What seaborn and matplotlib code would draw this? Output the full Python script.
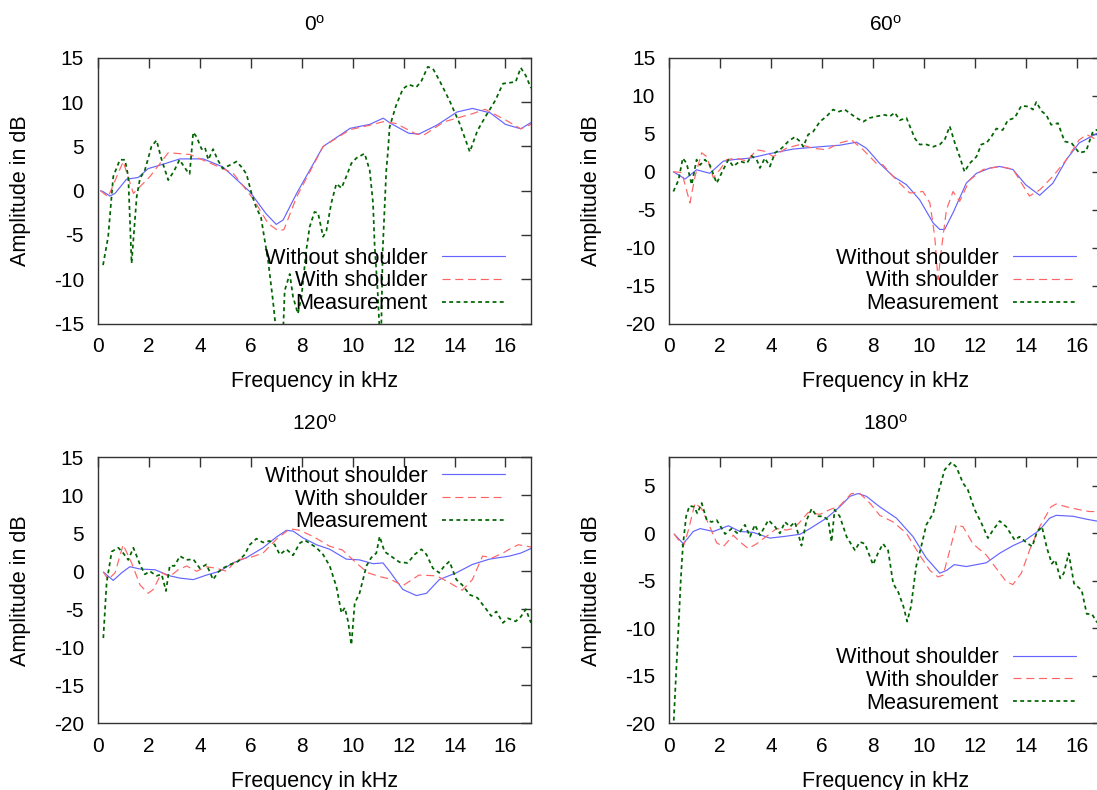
import matplotlib
matplotlib.use('Agg')
import matplotlib.pyplot as plt
import seaborn as sns

# --- data: frequency (kHz) and amplitude (dB) ---
labels = ['Without shoulder', 'With shoulder', 'Measurement']
titles = ['0', '60', '120', '180']

# 0 degrees
f0_without = [0.1, 0.2, 0.47, 0.67, 1.12, 1.58, 1.97, 2.56, 3.22, 4.13, 4.9, 5.96, 6.6, 7.0, 7.27,
              7.8, 8.84, 9.9, 10.67, 11.2, 11.5, 12.2, 12.6, 13.3, 14.1, 14.7, 15.4, 16.0, 16.6, 17.0]
a0_without = [0.0, -0.1, -0.6, -0.3, 1.3, 1.5, 2.5, 3.0, 3.6, 3.6, 2.7, -0.1, -2.6, -3.8, -3.3,
              -0.3, 5.0, 7.05, 7.5, 8.2, 7.6, 6.5, 6.4, 7.4, 8.9, 9.3, 8.8, 7.5, 7.0, 7.7]
f0_with = [0.1, 0.4, 0.99, 1.39, 2.04, 2.76, 3.6, 4.26, 5.3, 6.09, 6.68, 7.07, 7.3, 7.8, 8.84, 9.9,
           10.67, 11.2, 11.7, 12.5, 12.8, 13.6, 14.7, 15.2, 16.0, 16.6, 17.0]
a0_with = [0.0, -0.7, 3.3, -0.3, 1.6, 4.3, 4.1, 3.3, 2.0, -0.9, -3.7, -4.5, -4.4, -0.7, 5.0, 6.9,
           7.4, 7.8, 7.6, 6.4, 6.3, 7.8, 8.7, 9.2, 8.0, 7.0, 7.5]
f0_meas = [0.2, 0.4, 0.6, 0.86, 1.06, 1.19, 1.32, 1.52, 1.65, 1.84, 2.1, 2.3, 2.5, 2.76, 3.0, 3.2,
           3.48, 3.6, 3.74, 3.87, 4.07, 4.2, 4.33, 4.52, 4.7, 4.9, 5.18, 5.44, 5.63, 5.83, 6.03,
           6.2, 6.4, 6.68, 6.87, 7.0, 7.27, 7.33, 7.53, 7.66, 7.85, 7.99, 8.18, 8.31, 8.5, 8.64,
           8.84, 8.97, 9.16, 9.36, 9.56, 9.75, 9.95, 10.15, 10.34, 10.47, 10.67, 10.8, 10.86,
           10.98, 11.06, 11.12, 11.18, 11.32, 11.39, 11.45, 11.7, 11.97, 12.2, 12.5, 12.7, 12.95,
           13.15, 13.4, 13.8, 14.2, 14.6, 14.9, 15.24, 15.6, 15.9, 16.4, 16.6, 16.8, 17.0]
a0_meas = [-8.4, -5.2, 1.6, 3.5, 3.5, 1.6, -8.2, -0.7, 1.4, 2.3, 5.0, 5.7, 3.5, 1.2, 2.3, 3.5,
           2.3, 1.9, 6.6, 6.1, 4.7, 4.9, 3.5, 4.7, 3.5, 2.5, 2.9, 3.3, 2.7, 1.9, -0.3,
           -1.8, -3.0, -7.9, -12.4, -16.0, -16.0, -11.3, -9.4, -12.0, -13.9, -12.0, -6.7, -4.1, -2.4, -2.5,
           -5.2, -4.5, -1.4, 0.8, 0.3, 1.6, 3.1, 3.7, 4.0, 4.2, 2.3, -1.4, -6.0,
           -11.3, -16.0, -16.0, -6.7, 2.3, 4.6, 7.2, 9.6, 11.5, 12.0, 11.7, 12.4, 14.0,
           13.8, 12.5, 10.2, 7.6, 4.4, 6.8, 8.5, 10.2, 12.1, 12.3, 13.9, 13.0, 11.6]

# 60 degrees
f60_without = [0.17, 0.63, 1.08, 1.6, 2.13, 2.52, 3.18, 3.96, 4.88, 5.92, 6.7, 7.36, 7.75, 8.27,
               8.8, 9.32, 9.84, 10.37, 10.63, 10.82, 11.15, 11.67, 12.07, 12.6, 12.98, 13.5, 14.0,
               14.55, 15.07, 15.6, 16.1, 16.77, 17.0]
a60_without = [0.0, -0.96, 0.26, -0.2, 1.4, 1.6, 1.8, 2.4, 3.0, 3.3, 3.5, 3.9, 3.1, 1.1,
               -0.6, -1.7, -3.7, -6.75, -7.6, -7.6, -5.4, -1.5, -0.2, 0.5, 0.7, 0.3, -1.7,
               -3.1, -1.5, 1.6, 3.8, 5.0, 5.2]
f60_with = [0.17, 0.5, 0.82, 1.02, 1.28, 1.48, 1.74, 2.0, 2.26, 2.65, 3.05, 3.44, 3.76, 4.09, 4.6,
            5.14, 5.66, 6.18, 6.7, 7.16, 7.62, 8.14, 8.4, 8.93, 9.45, 9.97, 10.24, 10.43, 10.56,
            10.69, 10.89, 11.15, 11.41, 11.8, 12.33, 12.98, 13.5, 14.15, 14.55, 15.07, 15.6, 16.1,
            16.4, 16.8, 17.0]
a60_with = [0.0, -0.1, -4.1, -0.6, 2.5, 2.0, -0.8, 0.3, 1.6, 1.8, 1.4, 2.9, 2.7, 2.0, 3.1,
            3.6, 3.1, 2.9, 3.8, 4.2, 2.9, 1.1, 0.9, -1.1, -2.8, -2.6, -4.1, -8.5, -14.2,
            -10.3, -5.0, -2.6, -3.9, -1.1, 0.3, 0.7, 0.35, -3.2, -2.4, -0.6, 1.6, 4.2,
            4.9, 4.2, 4.5]
f60_meas = [0.17, 0.37, 0.54, 0.69, 0.89, 1.08, 1.22, 1.41, 1.6, 1.87, 2.13, 2.33, 2.52, 2.78, 3.05,
            3.24, 3.44, 3.57, 3.76, 3.96, 4.16, 4.42, 4.68, 4.94, 5.14, 5.27, 5.46, 5.66, 5.92,
            6.18, 6.44, 6.64, 6.9, 7.1, 7.36, 7.62, 7.88, 8.14, 8.47, 8.67, 8.86, 9.06, 9.32,
            9.65, 9.84, 10.1, 10.37, 10.63, 10.82, 11.02, 11.22, 11.41, 11.6, 11.8, 12.07, 12.26,
            12.46, 12.65, 12.85, 13.1, 13.3, 13.57, 13.83, 14.1, 14.29, 14.42, 14.62, 14.81, 15.0,
            15.27, 15.53, 15.8, 16.1, 16.37, 16.64, 16.78, 17.0]
a60_meas = [-2.6, -1.1, 1.8, 1.1, -1.7, 1.6, 0.9, 1.6, 0.9, -1.5, 0.3, 1.6, 0.7, 1.4, 1.1,
            2.1, 1.6, 0.5, 1.8, 0.7, 2.5, 3.1, 4.0, 4.6, 4.0, 3.3, 4.9, 5.3, 6.6,
            7.3, 8.2, 7.9, 8.2, 7.7, 7.1, 6.6, 7.1, 7.3, 7.5, 7.3, 7.8, 6.8, 7.1,
            4.4, 3.6, 3.6, 3.3, 3.6, 4.2, 6.0, 3.8, 2.0, 0.0, 1.1, 2.0, 3.6,
            3.8, 4.6, 5.7, 5.5, 6.8, 7.1, 8.7, 8.6, 8.2, 9.2, 8.0, 7.5, 6.2,
            6.4, 4.0, 3.8, 2.5, 2.7, 5.3, 5.5, 5.8]

# 120 degrees
f120_without = [0.21, 0.6, 0.93, 1.25, 1.65, 2.24, 2.82, 3.22, 3.74, 4.26, 4.78, 5.3, 5.83, 6.48,
                7.0, 7.4, 7.66, 8.05, 8.58, 9.1, 9.75, 10.27, 10.8, 11.19, 11.45, 11.97, 12.5,
                12.9, 13.4, 14.07, 14.7, 15.37, 16.15, 16.6, 17.0]
a120_without = [-0.1, -1.2, -0.2, 0.6, 0.3, 0.2, -0.6, -0.9, -1.1, -0.5, 0.0, 1.1, 1.8, 3.1,
                4.5, 5.4, 5.3, 4.4, 3.5, 2.9, 1.6, 1.5, 1.0, 1.1, 0.0, -2.4, -3.2,
                -2.9, -1.1, -0.2, 0.9, 1.6, 2.0, 2.4, 3.0]
f120_with = [0.21, 0.4, 0.67, 0.99, 1.32, 1.65, 1.97, 2.17, 2.5, 2.82, 3.15, 3.48, 3.87, 4.26, 4.65,
             5.05, 5.44, 5.96, 6.48, 7.0, 7.53, 7.92, 8.44, 9.1, 9.6, 10.14, 10.6, 11.06, 11.45,
             11.97, 12.6, 13.3, 13.8, 14.3, 14.7, 15.1, 15.5, 15.9, 16.15, 16.5, 17.0]
a120_with = [-0.1, -1.1, -0.2, 3.5, 1.1, -1.8, -2.9, -2.4, -0.2, -0.7, 0.2, 0.7, 0.0, 0.6, 0.4,
             0.0, 1.5, 1.8, 2.4, 4.2, 5.6, 5.4, 4.6, 3.3, 2.8, 1.1, -0.2, -0.7, -1.0,
             -1.9, -0.5, -0.6, -1.5, -2.5, -1.1, 2.0, 1.8, 2.4, 2.9, 3.5, 3.2]
f120_meas = [0.21, 0.34, 0.54, 0.8, 0.99, 1.19, 1.39, 1.65, 1.84, 2.04, 2.3, 2.5, 2.67, 2.82, 3.0,
             3.22, 3.48, 3.74, 4.0, 4.26, 4.52, 4.72, 4.9, 5.2, 5.5, 5.76, 5.96, 6.22, 6.48,
             6.74, 6.94, 7.14, 7.4, 7.66, 7.92, 8.12, 8.31, 8.58, 8.84, 9.1, 9.36, 9.56, 9.69,
             9.82, 9.95, 10.08, 10.27, 10.54, 10.73, 10.93, 11.06, 11.25, 11.5, 11.84, 12.16,
             12.43, 12.7, 12.9, 13.15, 13.4, 13.6, 13.8, 14.07, 14.3, 14.6, 14.9, 15.2, 15.44,
             15.64, 15.9, 16.1, 16.4, 16.6, 16.8, 17.0]
a120_meas = [-8.8, -1.5, 2.6, 3.1, 2.4, 1.5, 3.1, 0.9, -0.4, 0.0, -0.6, -0.4, -2.6, 0.75, 0.7,
             2.0, 1.5, 1.6, 0.4, 0.9, -1.1, -0.1, 0.4, 0.9, 1.3, 2.2, 3.5, 4.3, 3.8,
             4.0, 3.5, 2.2, 2.9, 2.1, 3.7, 4.1, 3.7, 3.1, 2.2, 0.7, -2.0, -5.5, -4.8,
             -6.6, -9.7, -4.2, -2.9, 0.7, 1.8, 2.4, 4.6, 2.6, 2.0, 1.2, 1.1,
             2.2, 2.9, 2.2, 0.4, -0.2, 0.7, 1.3, -1.1, -1.8, -3.1, -3.5, -4.8, -5.9,
             -5.3, -6.8, -6.2, -6.6, -6.0, -5.0, -6.8]

# 180 degrees
f180_without = [0.2, 0.56, 0.95, 1.22, 1.74, 2.33, 2.78, 3.3, 3.96, 4.6, 5.14, 5.53, 6.18, 6.7,
                7.1, 7.42, 7.75, 8.27, 8.93, 9.58, 10.1, 10.63, 10.9, 11.2, 11.67, 12.46, 12.98,
                13.5, 14.0, 14.55, 14.94, 15.2, 15.86, 16.38, 16.78, 17.0]
a180_without = [-0.07, -1.1, 0.2, 0.5, 0.2, 0.8, 0.2, 0.1, -0.5, -0.3, -0.1, 0.5, 1.6, 2.8,
                3.9, 4.2, 3.9, 2.8, 1.6, -0.35, -2.6, -4.2, -3.9, -3.3, -3.5, -3.1, -2.1,
                -1.3, -0.7, 0.35, 1.6, 1.9, 1.8, 1.5, 1.3, 1.3]
f180_with = [0.2, 0.56, 0.76, 1.02, 1.28, 1.6, 1.87, 2.13, 2.52, 2.78, 3.11, 3.44, 3.83, 4.22, 4.6,
             4.88, 5.14, 5.46, 5.92, 6.31, 6.7, 7.16, 7.49, 7.88, 8.27, 8.8, 9.32, 9.84, 10.24,
             10.56, 10.76, 11.02, 11.28, 11.54, 11.93, 12.46, 12.85, 13.24, 13.5, 13.83, 14.15,
             14.55, 15.0, 15.2, 15.6, 16.1, 16.5, 16.78, 17.0]
a180_with = [-0.07, -1.4, 0.35, 3.2, 2.6, 0.7, -1.0, -1.4, -0.2, -0.9, -1.6, -1.1, -0.3, 0.5, 0.35,
             0.5, 1.2, 2.2, 2.0, 2.5, 2.9, 4.2, 4.2, 3.2, 1.9, 1.2, 0.0, -2.3, -3.9,
             -4.6, -4.4, -1.8, 0.9, 0.7, -1.1, -2.3, -3.7, -5.1, -5.4, -4.2, -1.8,
             0.7, 2.8, 3.1, 2.8, 2.5, 2.3, 2.3, 2.3]
f180_meas = [0.17, 0.27, 0.37, 0.46, 0.54, 0.67, 0.8, 0.98, 1.11, 1.28, 1.48, 1.67, 1.87, 2.2, 2.46,
             2.72, 2.98, 3.18, 3.37, 3.57, 3.9, 4.16, 4.35, 4.55, 4.75, 4.94, 5.2, 5.4, 5.6, 5.8,
             6.05, 6.25, 6.38, 6.5, 6.7, 6.97, 7.3, 7.49, 7.69, 8.01, 8.2, 8.4, 8.6, 8.8, 9.0,
             9.2, 9.35, 9.5, 9.7, 9.9, 10.1, 10.37, 10.56, 10.82, 11.08, 11.28, 11.54, 11.73,
             12.0, 12.26, 12.52, 12.72, 12.98, 13.24, 13.57, 13.76, 14.0, 14.26, 14.45, 14.64,
             14.84, 15.03, 15.16, 15.36, 15.5, 15.69, 15.9, 16.2, 16.4, 16.6, 16.78, 17.0]
a180_meas = [-20.5, -15.1, -9.9, -4.9, -1.4, 1.8, 2.9, 2.8, 2.1, 3.2, 1.4, 1.2, 1.4, -0.07, 0.5,
             -0.07, 0.9, -0.35, 0.9, -0.2, 1.4, 0.7, 0.0, 1.2, 0.7, 1.2, -1.3, 1.4, 2.6, 1.8,
             1.8, 1.4, -0.9, 2.5, 1.8, -0.35, -1.8, -0.9, -1.1, -3.3, -2.1, -1.1, -1.8, -5.3, -6.2,
             -7.7, -9.3, -7.7, -3.5, -1.4, 0.9, 2.1, 4.2, 6.7, 7.5, 7.0, 5.3, 4.6,
             2.5, 1.1, -0.5, 0.35, 1.3, 0.7, -0.7, -0.35, -0.9, -1.4, 0.2, 0.7,
             -1.6, -3.2, -2.8, -4.75, -4.2, -2.1, -5.3, -6.0, -8.5, -8.5, -9.3, -9.8]

freqs = [[f0_without, f0_with, f0_meas], [f60_without, f60_with, f60_meas],
         [f120_without, f120_with, f120_meas], [f180_without, f180_with, f180_meas]]
amps = [[a0_without, a0_with, a0_meas], [a60_without, a60_with, a60_meas],
        [a120_without, a120_with, a120_meas], [a180_without, a180_with, a180_meas]]
ylims = [(-15, 15), (-20, 15), (-20, 15), (-20, 8)]
yticks = [range(-15, 16, 5), range(-20, 16, 5), range(-20, 16, 5), range(-20, 6, 5)]

# --- style (gnuplot look) ---
sns.set_theme(style='white')
plt.rcParams['font.family'] = ['Liberation Sans', 'DejaVu Sans']
plt.rcParams['mathtext.default'] = 'regular'
plt.rcParams['lines.scale_dashes'] = False
plt.rcParams['axes.unicode_minus'] = False
plt.rcParams['text.color'] = 'black'
plt.rcParams['axes.labelcolor'] = 'black'

colors = ['#6464ff', '#ff6464', '#006400']
widths = [0.85, 0.85, 1.25]
styles = ['-', (0, (5.8, 3.4)), (0, (2.8, 2.4))]

# axes positions in figure fractions [left, bottom, width, height]
positions = [[0.0893, 0.5905, 0.3947, 0.3361], [0.6099, 0.5905, 0.3947, 0.3361],
             [0.0893, 0.0848, 0.3947, 0.3361], [0.6099, 0.0848, 0.3947, 0.3361]]
legend_loc = ['lower right', 'lower right', 'upper right', 'lower right']
legend_y = [0.035, 0.035, 0.968, 0.035]

fig = plt.figure(figsize=(10.97, 7.9), dpi=100)

for i in range(4):
    ax = fig.add_axes(positions[i])
    for k in range(3):
        sns.lineplot(x=freqs[i][k], y=amps[i][k], ax=ax, color=colors[k], lw=widths[k],
                     linestyle=styles[k], label=labels[k], errorbar=None)
    ax.set_xlim(0, 17)
    ax.set_ylim(*ylims[i])
    ax.set_xticks(range(0, 17, 2))
    ax.set_yticks(list(yticks[i]))
    ax.tick_params(direction='in', length=7, width=1, top=True, right=True,
                   labelsize=15, colors='#333333', labelcolor='black', pad=10)
    for sp in ax.spines.values():
        sp.set_color('#333333')
        sp.set_linewidth(1)
    ax.set_title(titles[i] + r'$^{o}$', fontsize=15, pad=20)
    ax.set_xlabel('Frequency in kHz', fontsize=15.5)
    ax.set_ylabel('Amplitude in dB', fontsize=15.5)
    ax.xaxis.set_label_coords(0.5, -0.18)
    ax.yaxis.set_label_coords(-0.155, 0.5)
    ax.legend(loc=legend_loc[i], bbox_to_anchor=(0.94, legend_y[i]), frameon=False,
              markerfirst=False, fontsize=15.7, handlelength=2.9, handletextpad=0.65,
              labelspacing=0.08, borderpad=0, borderaxespad=0)

plt.savefig('out.png', dpi=100)
plt.close()
